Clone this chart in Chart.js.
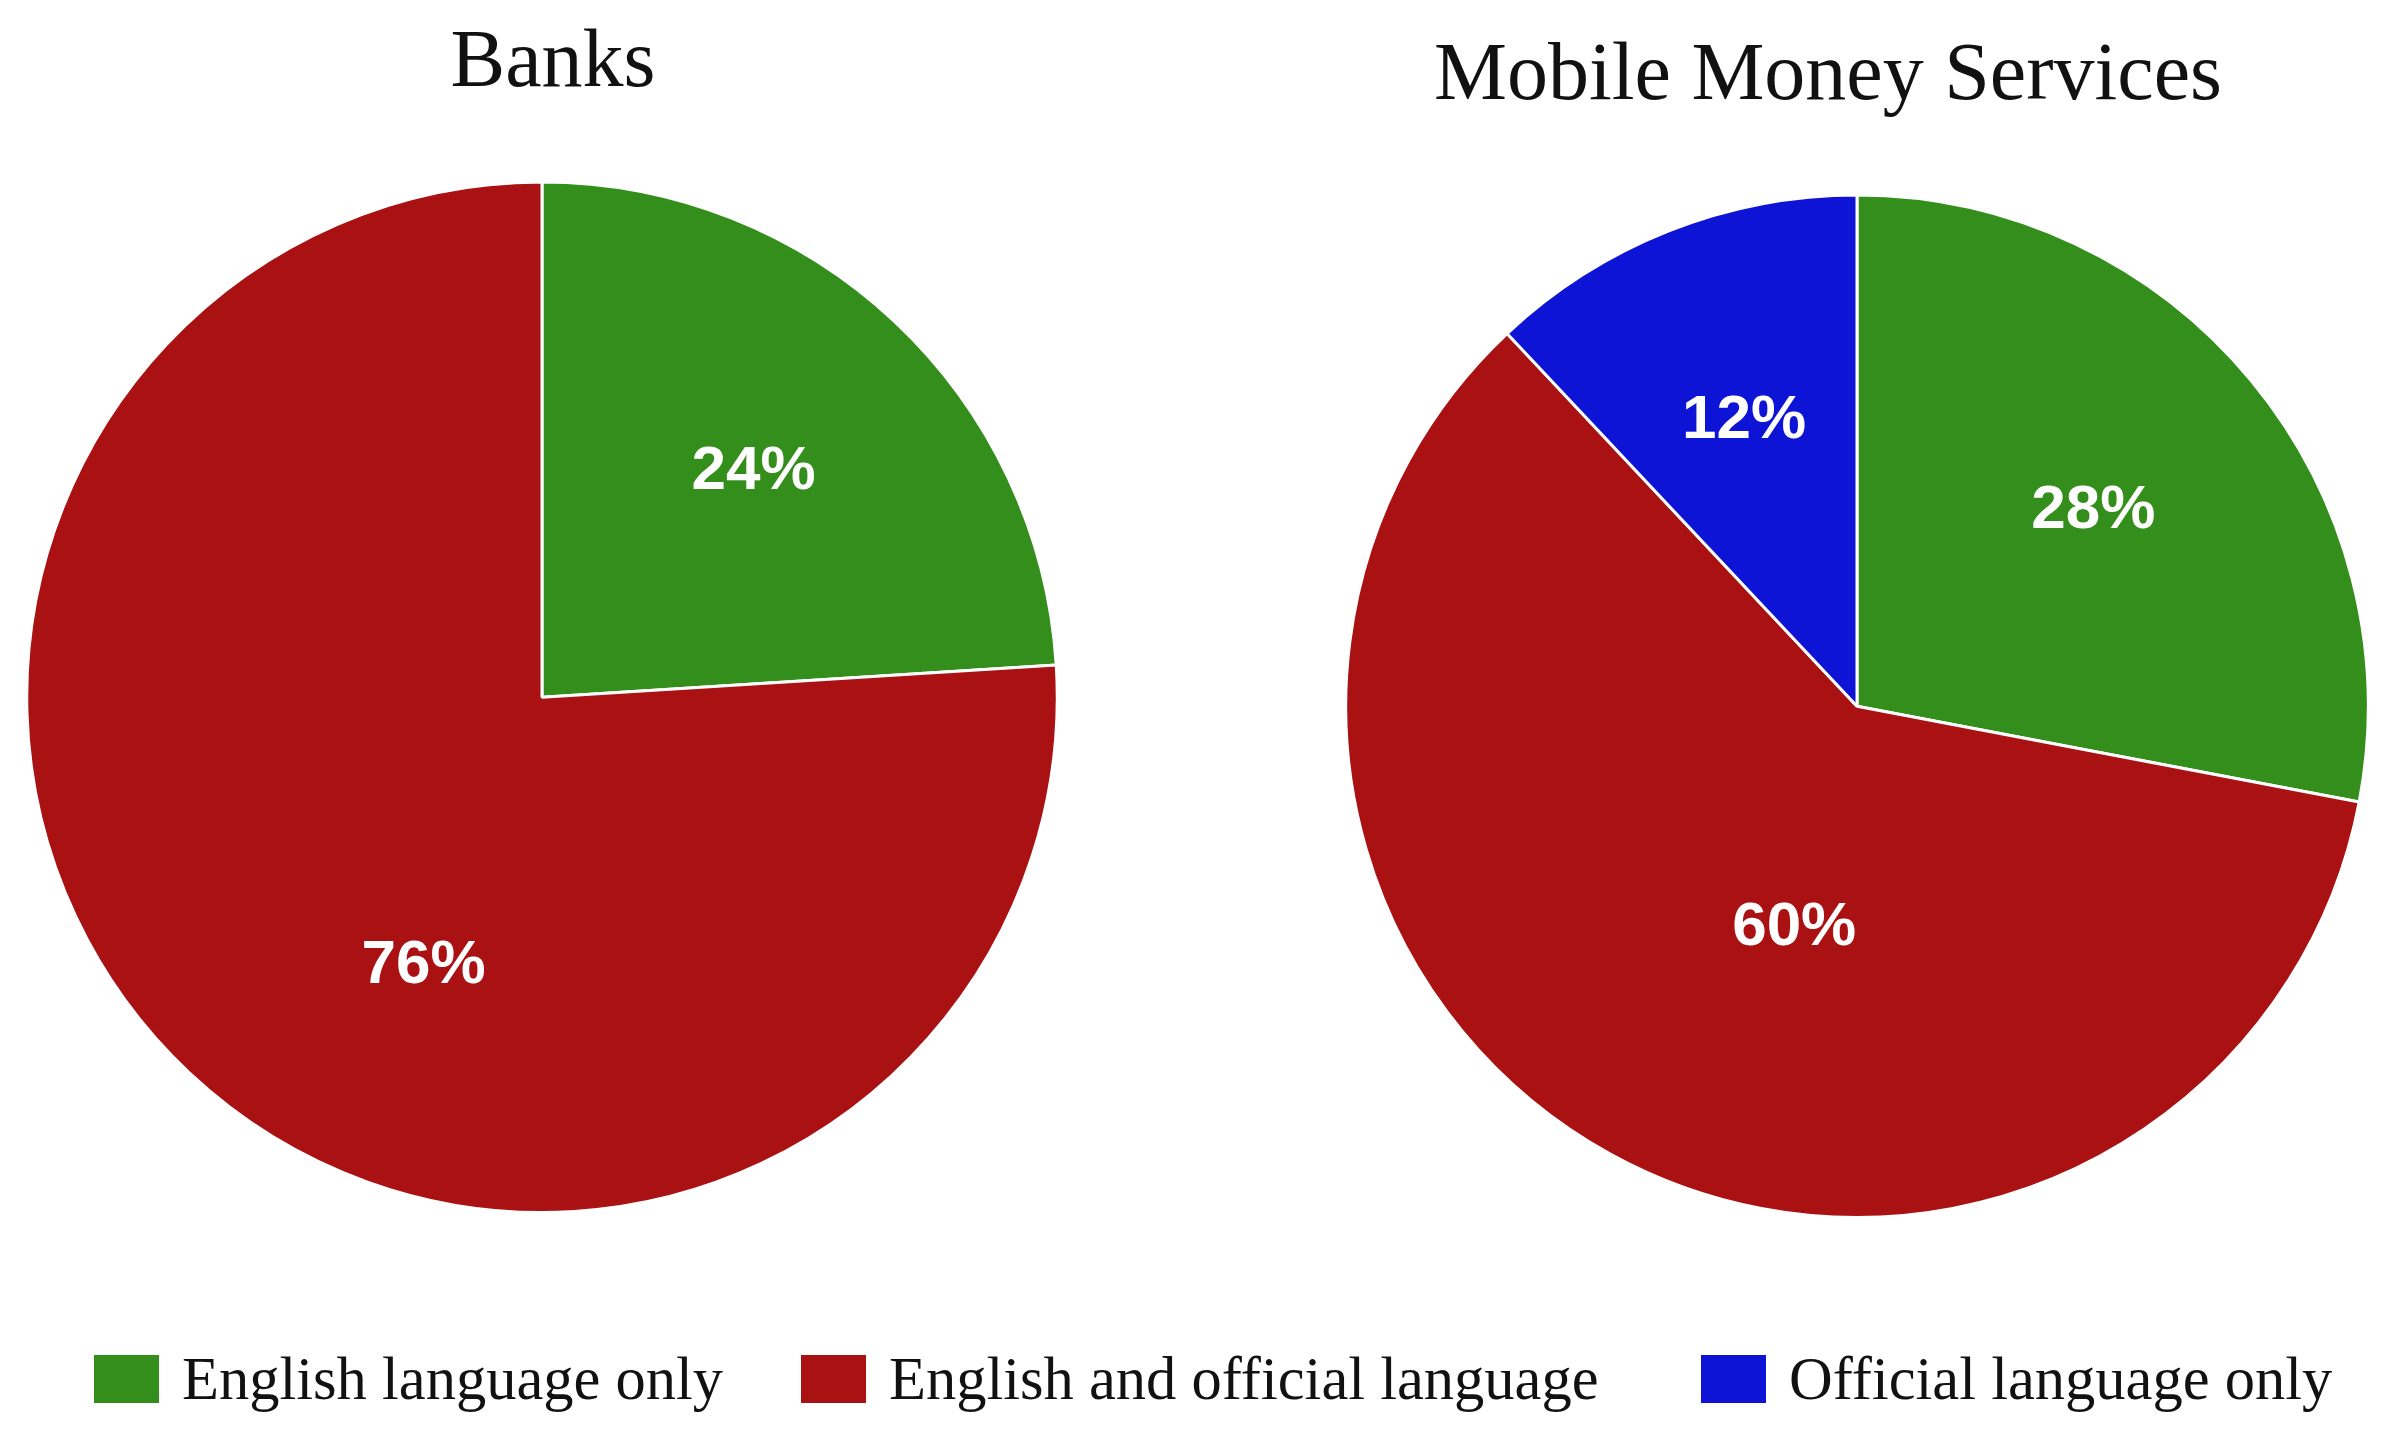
<!DOCTYPE html>
<html>
<head>
<meta charset="utf-8">
<script src="https://cdn.jsdelivr.net/npm/chart.js@4.4.1/dist/chart.umd.min.js"></script>
<style>
  html, body { margin: 0; padding: 0; background: #ffffff; width: 2392px; height: 1441px; overflow: hidden; position: relative; }
  canvas { position: absolute; }
  #c1 { left: -2px; top: 0px; }
  #c2 { left: 1278px; top: 0px; }
  #legend { position: absolute; left: 0; top: 1349px; width: 2392px; height: 60px; font-family: "Liberation Serif", "Times New Roman", serif; font-size: 60.5px; color: #111; white-space: nowrap; }
  .item { position: absolute; top: 0; height: 60px; display: flex; align-items: center; }
  .sw { width: 65px; height: 48px; margin-right: 23px; }
</style>
</head>
<body>
<canvas id="c1" width="1110" height="1214"></canvas>
<canvas id="c2" width="1100" height="1219"></canvas>
<div id="legend"></div>
<script>
// ---- data ----
const categories = ["English language only", "English and official language", "Official language only"];
const seriesColors = ["#348e1b", "#aa1112", "#0d14d6"];
const chartTitles = ["Banks", "Mobile Money Services"];
const banksValues = [24, 76, 0];
const mobileValues = [28, 60, 12];

// ---- percentage label plugin ----
const pctLabels = {
  id: 'pctLabels',
  afterDatasetsDraw(chart, args, opts) {
    const ctx = chart.ctx;
    const meta = chart.getDatasetMeta(0);
    const data = chart.data.datasets[0].data;
    const total = data.reduce((a, b) => a + b, 0);
    ctx.save();
    ctx.fillStyle = '#ffffff';
    ctx.font = 'bold 62px "Liberation Sans", Arial, sans-serif';
    ctx.textAlign = 'center';
    ctx.textBaseline = 'middle';
    meta.data.forEach((arc, i) => {
      const v = data[i];
      if (!v) return;
      const p = arc.getProps(['x', 'y', 'startAngle', 'endAngle', 'outerRadius'], true);
      let mid = (p.startAngle + p.endAngle) / 2;
      let rf = opts.smallRadius;
      if (p.endAngle - p.startAngle > Math.PI) {
        mid = Math.PI / 2 + 0.55 * (mid - Math.PI / 2);
        rf = opts.bigRadius;
      }
      const r = p.outerRadius * rf;
      const tx = p.x + Math.cos(mid) * r;
      const ty = p.y + Math.sin(mid) * r;
      ctx.fillText(Math.round(v / total * 100) + '%', tx, ty);
    });
    ctx.restore();
  }
};

// an empty side box is used only to offset the pie from the centred title
function makePie(id, title, values, padTop, padBottom, bigRadius, sideBox, sideWidth) {
  return new Chart(document.getElementById(id), {
    type: 'pie',
    data: {
      labels: categories,
      datasets: [{
        data: values,
        backgroundColor: seriesColors,
        borderColor: '#ffffff',
        borderWidth: 3
      }]
    },
    options: {
      responsive: false,
      animation: false,
      events: [],
      layout: { padding: 0 },
      plugins: {
        legend: {
          display: true,
          position: sideBox,
          fullSize: false,
          labels: { padding: sideWidth - 10, filter: () => false }
        },
        tooltip: { enabled: false },
        title: {
          display: true,
          text: title,
          color: '#111111',
          font: { family: '"Liberation Serif", "Times New Roman", serif', size: 82, weight: 'normal', lineHeight: 1.2 },
          padding: { top: padTop, bottom: padBottom }
        },
        pctLabels: { smallRadius: 0.6, bigRadius: bigRadius }
      }
    },
    plugins: [pctLabels]
  });
}

makePie('c1', chartTitles[0], banksValues, 14.8, 67.3, 0.57, 'right', 22);
makePie('c2', chartTitles[1], mobileValues, 28.3, 66.8, 0.45, 'left', 58);

// ---- shared legend ----
const legendLefts = [94, 801, 1701];
const legend = document.getElementById('legend');
categories.forEach((name, i) => {
  const item = document.createElement('div');
  item.className = 'item';
  item.style.left = legendLefts[i] + 'px';
  const sw = document.createElement('div');
  sw.className = 'sw';
  sw.style.background = seriesColors[i];
  const tx = document.createElement('span');
  tx.textContent = name;
  item.appendChild(sw);
  item.appendChild(tx);
  legend.appendChild(item);
});
</script>
</body>
</html>
